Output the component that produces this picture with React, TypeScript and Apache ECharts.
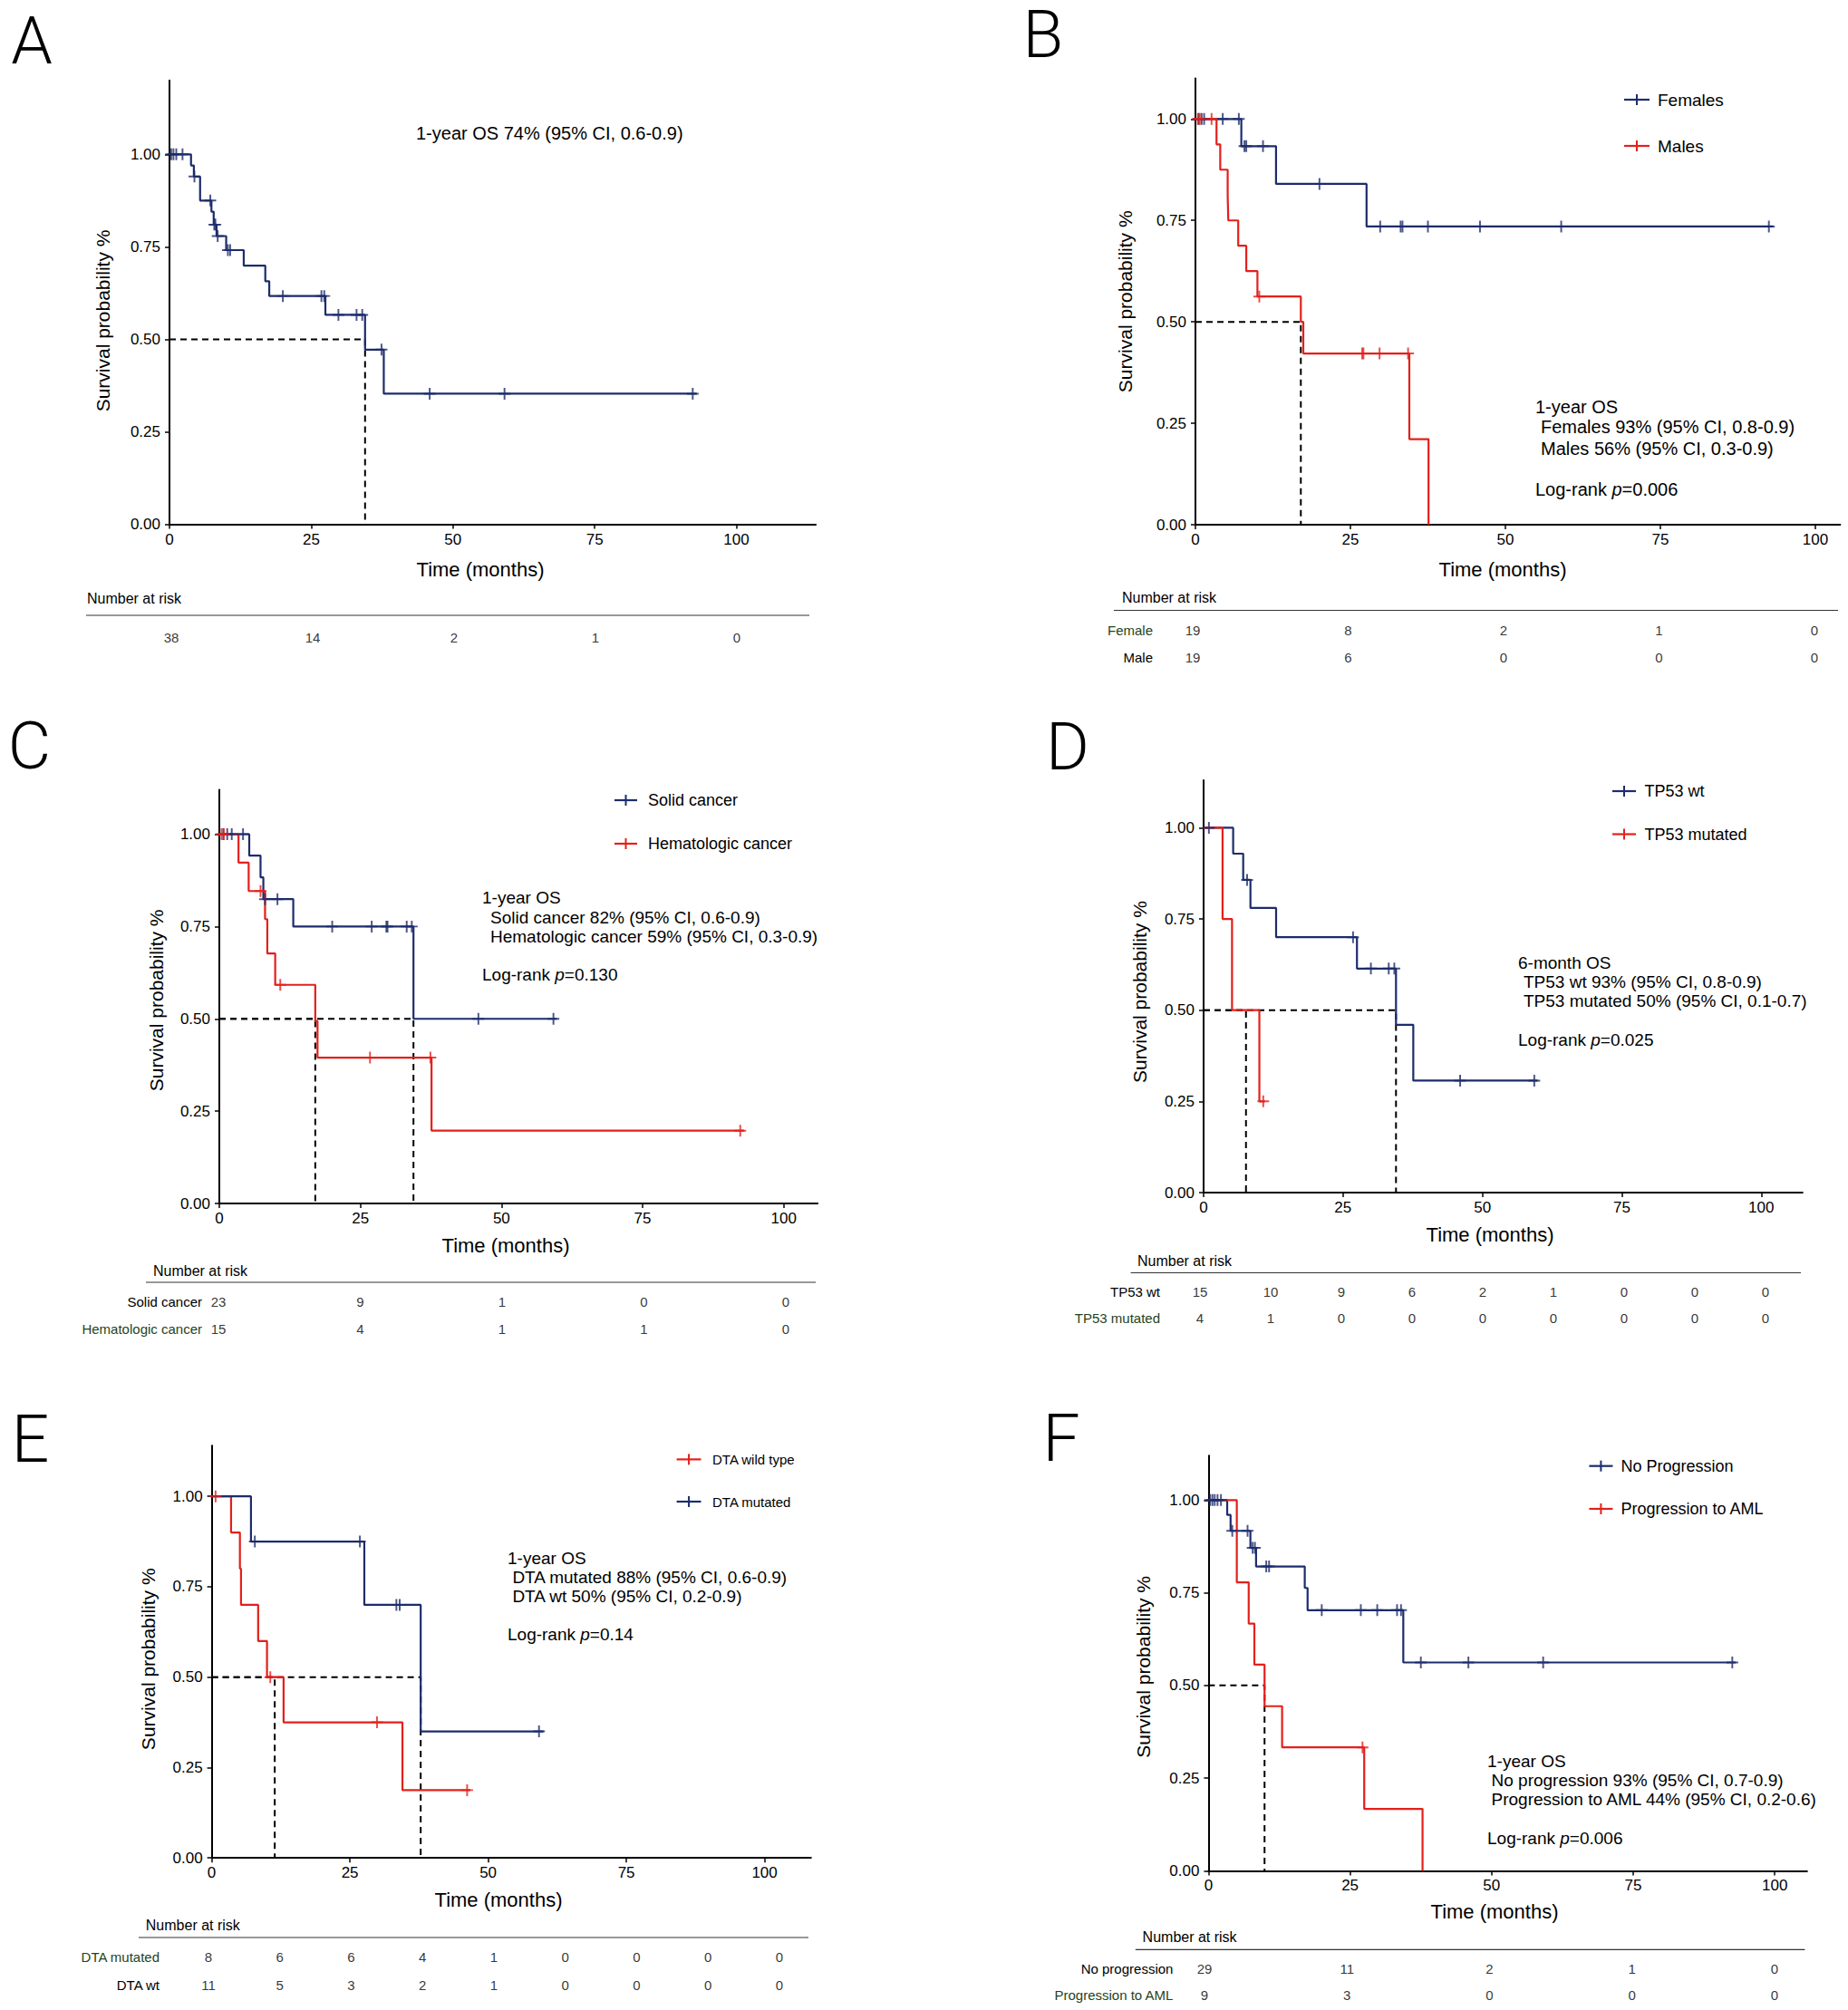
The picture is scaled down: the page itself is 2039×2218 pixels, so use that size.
import React, { useEffect, useRef } from 'react';
import * as echarts from 'echarts';

const NAVY = '#1d2c6c';
const RED = '#e3201b';
const GREEN = '#1f4420';
const FONT = "'Liberation Sans', Arial, Helvetica, sans-serif";
const LETTER_FONT = "Roboto, 'Liberation Sans', sans-serif";

// ---------------- data ----------------
const xTicks = [0, 25, 50, 75, 100];
const yTicks = [0, 0.25, 0.5, 0.75, 1];
const riskCols5 = [0, 25, 50, 75, 100];
const riskCols9 = [0, 12.5, 25, 37.5, 50, 62.5, 75, 87.5, 100];

// A: all patients
const aTimes = [0, 3.8, 4.3, 5.4, 7.4, 7.8, 8.3, 10.0, 13.1, 16.9, 17.6, 27.5, 34.5, 37.8, 93.0];
const aSurv = [1, 0.97, 0.94, 0.875, 0.845, 0.81, 0.779, 0.741, 0.699, 0.657, 0.617, 0.566, 0.472, 0.353, 0.353];
const aCensor = [0.3, 0.7, 1.2, 2.3, 4.4, 7.2, 7.9, 8.1, 8.5, 10.3, 10.7, 20.0, 26.8, 27.3, 29.8, 33.0, 34.0, 37.4, 45.9, 59.1, 92.3];
const aMedians = [34.5];
const aRisk = [38, 14, 2, 1, 0];

// B: sex
const bFemTimes = [0, 7.4, 13.0, 27.6, 93.2];
const bFemSurv = [1, 0.933, 0.84, 0.735, 0.735];
const bFemCensor = [0.5, 1.0, 1.4, 4.4, 7.0, 7.9, 8.2, 10.9, 20.0, 29.8, 33.1, 33.4, 37.5, 45.9, 59.0, 92.5];
const bMalTimes = [0, 3.4, 4.0, 5.2, 5.3, 6.9, 8.2, 10.0, 17.0, 17.4, 34.5, 37.6];
const bMalSurv = [1, 0.9375, 0.875, 0.8125, 0.75, 0.6875, 0.625, 0.5625, 0.5, 0.422, 0.211, 0];
const bMalCensor = [0.4, 0.7, 2.6, 10.3, 26.9, 27.1, 29.7, 34.3];
const bMedians = [17.0];
const bRiskFemale = [19, 8, 2, 1, 0];
const bRiskMale = [19, 6, 0, 0, 0];

// C: cancer type
const cSolTimes = [0, 5.3, 7.3, 7.8, 13.1, 34.4, 59.8];
const cSolSurv = [1, 0.942, 0.883, 0.824, 0.75, 0.5, 0.5];
const cSolCensor = [0.7, 1.4, 2.2, 4.2, 8.1, 10.3, 20.0, 27.0, 29.6, 29.8, 33.2, 34.1, 45.9, 59.2];
const cHemTimes = [0, 3.4, 5.2, 8.1, 8.5, 9.9, 17.0, 17.4, 37.6, 93.0];
const cHemSurv = [1, 0.923, 0.846, 0.77, 0.677, 0.592, 0.494, 0.395, 0.197, 0.197];
const cHemCensor = [0.4, 0.8, 7.3, 10.8, 26.7, 37.4, 92.3];
const cMedians = [17.0, 34.4];
const cRiskSolid = [23, 9, 1, 0, 0];
const cRiskHem = [15, 4, 1, 1, 0];

// D: TP53
const dWtTimes = [0, 5.3, 7.1, 8.4, 13.0, 27.5, 34.5, 37.6, 59.9];
const dWtSurv = [1, 0.929, 0.857, 0.78, 0.70, 0.614, 0.46, 0.307, 0.307];
const dWtCensor = [0.95, 7.8, 26.8, 30.0, 33.2, 34.2, 46.0, 59.3];
const dMutTimes = [0, 3.4, 5.1, 10.0, 11.0];
const dMutSurv = [1, 0.75, 0.5, 0.25, 0.25];
const dMutCensor = [10.7];
const dMedians = [7.6, 34.5];
const dRiskWt = [15, 10, 9, 6, 2, 1, 0, 0, 0];
const dRiskMut = [4, 1, 0, 0, 0, 0, 0, 0, 0];

// E: DTA
const eWildTimes = [0, 3.5, 5.1, 5.3, 8.4, 10.0, 13.0, 34.5, 46.8];
const eWildSurv = [1, 0.9, 0.8, 0.7, 0.6, 0.5, 0.375, 0.1875, 0.1875];
const eWildCensor = [0.7, 10.6, 29.9, 46.2];
const eMutTimes = [0, 7.1, 27.6, 37.8, 60.0];
const eMutSurv = [1, 0.875, 0.70, 0.35, 0.35];
const eMutCensor = [7.8, 26.8, 33.4, 34.0, 59.2];
const eMedians = [11.4, 37.8];
const eRiskMut = [8, 6, 6, 4, 1, 0, 0, 0, 0];
const eRiskWt = [11, 5, 3, 2, 1, 0, 0, 0, 0];

// F: progression
const fNoTimes = [0, 3.3, 3.9, 7.4, 8.4, 17.0, 17.5, 34.4, 93.1];
const fNoSurv = [1, 0.96, 0.917, 0.871, 0.821, 0.763, 0.703, 0.562, 0.562];
const fNoCensor = [0.3, 0.7, 1.1, 1.6, 2.2, 4.2, 6.9, 7.8, 8.2, 10.2, 10.7, 20.0, 26.9, 29.8, 33.3, 34.0, 37.5, 45.9, 59.1, 92.5];
const fAmlTimes = [0, 5.0, 7.1, 8.1, 9.9, 13.0, 27.5, 37.8];
const fAmlSurv = [1, 0.778, 0.667, 0.556, 0.444, 0.333, 0.167, 0];
const fAmlCensor = [27.2];
const fMedians = [9.9];
const fRiskNo = [29, 11, 2, 1, 0];
const fRiskAml = [9, 3, 0, 0, 0];

// ---------------- layout ----------------
type Group = { times: number[]; surv: number[]; censor: number[]; color: string };
type Row = { name: string; counts: number[]; color: string };
type Panel = {
  x0: number; x100: number; y0: number; y1: number; xmax: number; ymax: number;
  letter: { t: string; x: number; y: number };
  yNameX: number;
  xName: { x: number; y: number };
  ann: { t: string; x: number; y: number }[];
  logrank: { p: string; x: number; y: number } | null;
  annFont: number;
  legend: { mx1: number; mx2: number; tx: number; font: number; items: { name: string; color: string; y: number }[] } | null;
  risk: { tx: number; ty: number; lx1: number; lx2: number; ly: number; x0: number; x100: number; rowsY: number[]; labelRight: number; rows: Row[]; cols: number[] };
  groups: Group[];
  medians: number[];
};

const panels: Panel[] = [
  {
    x0: 187, x100: 812.5, y0: 578.5, y1: 170.3, xmax: 114, ymax: 1.2,
    letter: { t: 'A', x: 35, y: 45 }, yNameX: 113, xName: { x: 530, y: 628 },
    ann: [{ t: '1-year OS 74% (95% CI, 0.6-0.9)', x: 459, y: 147 }], logrank: null, annFont: 20,
    legend: null,
    risk: { tx: 96, ty: 660, lx1: 95, lx2: 893, ly: 679, x0: 189, x100: 813, rowsY: [703], labelRight: 150,
      rows: [{ name: 'All', counts: aRisk, color: '#000' }], cols: riskCols5 },
    groups: [{ times: aTimes, surv: aSurv, censor: aCensor, color: NAVY }],
    medians: aMedians,
  },
  {
    x0: 1319, x100: 2003, y0: 579, y1: 131.3, xmax: 104, ymax: 1.1,
    letter: { t: 'B', x: 1151, y: 38 }, yNameX: 1241, xName: { x: 1658, y: 628 },
    ann: [
      { t: '1-year OS', x: 1694, y: 449 },
      { t: 'Females 93% (95% CI, 0.8-0.9)', x: 1700, y: 471 },
      { t: 'Males 56% (95% CI, 0.3-0.9)', x: 1700, y: 495 },
    ],
    logrank: { p: '0.006', x: 1694, y: 540 }, annFont: 20,
    legend: { mx1: 1792, mx2: 1820, tx: 1829, font: 19, items: [
      { name: 'Females', color: NAVY, y: 110 },
      { name: 'Males', color: RED, y: 161 },
    ] },
    risk: { tx: 1238, ty: 659, lx1: 1229, lx2: 2028, ly: 673.5, x0: 1316, x100: 2002, rowsY: [695, 725], labelRight: 1272,
      rows: [{ name: 'Female', counts: bRiskFemale, color: GREEN }, { name: 'Male', counts: bRiskMale, color: '#000' }], cols: riskCols5 },
    groups: [
      { times: bFemTimes, surv: bFemSurv, censor: bFemCensor, color: NAVY },
      { times: bMalTimes, surv: bMalSurv, censor: bMalCensor, color: RED },
    ],
    medians: bMedians,
  },
  {
    x0: 242, x100: 864.7, y0: 1328, y1: 920.5, xmax: 106, ymax: 1.12,
    letter: { t: 'C', x: 32.5, y: 823 }, yNameX: 172, xName: { x: 558, y: 1374 },
    ann: [
      { t: '1-year OS', x: 532, y: 990 },
      { t: 'Solid cancer 82% (95% CI, 0.6-0.9)', x: 541, y: 1012 },
      { t: 'Hematologic cancer 59% (95% CI, 0.3-0.9)', x: 541, y: 1033 },
    ],
    logrank: { p: '0.130', x: 532, y: 1075 }, annFont: 19,
    legend: { mx1: 678, mx2: 703, tx: 715, font: 18, items: [
      { name: 'Solid cancer', color: NAVY, y: 883 },
      { name: 'Hematologic cancer', color: RED, y: 931 },
    ] },
    risk: { tx: 169, ty: 1402, lx1: 161, lx2: 900, ly: 1415, x0: 241, x100: 867, rowsY: [1436, 1466], labelRight: 223,
      rows: [{ name: 'Solid cancer', counts: cRiskSolid, color: '#000' }, { name: 'Hematologic cancer', counts: cRiskHem, color: GREEN }], cols: riskCols5 },
    groups: [
      { times: cSolTimes, surv: cSolSurv, censor: cSolCensor, color: NAVY },
      { times: cHemTimes, surv: cHemSurv, censor: cHemCensor, color: RED },
    ],
    medians: cMedians,
  },
  {
    x0: 1328, x100: 1943.3, y0: 1316, y1: 913.4, xmax: 107.4, ymax: 1.13,
    letter: { t: 'D', x: 1178, y: 824 }, yNameX: 1257, xName: { x: 1644, y: 1362 },
    ann: [
      { t: '6-month OS', x: 1675, y: 1062 },
      { t: 'TP53 wt 93% (95% CI, 0.8-0.9)', x: 1681, y: 1083.4 },
      { t: 'TP53 mutated 50% (95% CI, 0.1-0.7)', x: 1681, y: 1104.7 },
    ],
    logrank: { p: '0.025', x: 1675, y: 1147 }, annFont: 19,
    legend: { mx1: 1779, mx2: 1805, tx: 1814.5, font: 18, items: [
      { name: 'TP53 wt', color: NAVY, y: 873 },
      { name: 'TP53 mutated', color: RED, y: 920.5 },
    ] },
    risk: { tx: 1255, ty: 1391, lx1: 1247.6, lx2: 1987, ly: 1404.5, x0: 1324, x100: 1948, rowsY: [1425.7, 1454], labelRight: 1280,
      rows: [{ name: 'TP53 wt', counts: dRiskWt, color: '#000' }, { name: 'TP53 mutated', counts: dRiskMut, color: GREEN }], cols: riskCols9 },
    groups: [
      { times: dWtTimes, surv: dWtSurv, censor: dWtCensor, color: NAVY },
      { times: dMutTimes, surv: dMutSurv, censor: dMutCensor, color: RED },
    ],
    medians: dMedians,
  },
  {
    x0: 233.6, x100: 843.6, y0: 2050.2, y1: 1651.2, xmax: 108.4, ymax: 1.14,
    letter: { t: 'E', x: 33.5, y: 1588 }, yNameX: 163, xName: { x: 550, y: 2096 },
    ann: [
      { t: '1-year OS', x: 560, y: 1719 },
      { t: 'DTA mutated 88% (95% CI, 0.6-0.9)', x: 565.4, y: 1740 },
      { t: 'DTA wt 50% (95% CI, 0.2-0.9)', x: 565.4, y: 1761 },
    ],
    logrank: { p: '0.14', x: 560, y: 1803.7 }, annFont: 19,
    legend: { mx1: 746.6, mx2: 773.5, tx: 786, font: 15, items: [
      { name: 'DTA wild type', color: RED, y: 1610.4 },
      { name: 'DTA mutated', color: NAVY, y: 1657 },
    ] },
    risk: { tx: 160.8, ty: 2124.4, lx1: 153, lx2: 892, ly: 2138, x0: 230, x100: 860, rowsY: [2159.6, 2190.8], labelRight: 176,
      rows: [{ name: 'DTA mutated', counts: eRiskMut, color: GREEN }, { name: 'DTA wt', counts: eRiskWt, color: '#000' }], cols: riskCols9 },
    groups: [
      { times: eWildTimes, surv: eWildSurv, censor: eWildCensor, color: RED },
      { times: eMutTimes, surv: eMutSurv, censor: eMutCensor, color: NAVY },
    ],
    medians: eMedians,
  },
  {
    x0: 1333.4, x100: 1958.2, y0: 2064.4, y1: 1655.3, xmax: 105.7, ymax: 1.12,
    letter: { t: 'F', x: 1171, y: 1587 }, yNameX: 1261, xName: { x: 1649, y: 2109 },
    ann: [
      { t: '1-year OS', x: 1641, y: 1943 },
      { t: 'No progression 93% (95% CI, 0.7-0.9)', x: 1645.5, y: 1964.5 },
      { t: 'Progression to AML 44% (95% CI, 0.2-0.6)', x: 1645.5, y: 1985.6 },
    ],
    logrank: { p: '0.006', x: 1641, y: 2028.2 }, annFont: 19,
    legend: { mx1: 1753.4, mx2: 1779.4, tx: 1788.5, font: 18, items: [
      { name: 'No Progression', color: NAVY, y: 1617.7 },
      { name: 'Progression to AML', color: RED, y: 1665 },
    ] },
    risk: { tx: 1260.6, ty: 2137.7, lx1: 1252.8, lx2: 1991.4, ly: 2151.4, x0: 1329, x100: 1958, rowsY: [2172.5, 2201.8], labelRight: 1294.4,
      rows: [{ name: 'No progression', counts: fRiskNo, color: '#000' }, { name: 'Progression to AML', counts: fRiskAml, color: GREEN }], cols: riskCols5 },
    groups: [
      { times: fNoTimes, surv: fNoSurv, censor: fNoCensor, color: NAVY },
      { times: fAmlTimes, surv: fAmlSurv, censor: fAmlCensor, color: RED },
    ],
    medians: fMedians,
  },
];

const PLUS = 'path://M-0.9,-6H0.9V-0.9H6V0.9H0.9V6H-0.9V0.9H-6V-0.9H-0.9Z';

function survAt(times: number[], surv: number[], t: number) {
  let s = surv[0];
  for (let i = 0; i < times.length; i++) if (times[i] <= t) s = surv[i];
  return s;
}

function textEl(t: string, x: number, y: number, size: number, extra: any = {}) {
  const align = extra.align || 'left';
  const style: any = {
    text: t, fill: extra.fill || '#000', fontSize: size, fontFamily: extra.family || FONT,
    fontWeight: extra.weight || 'normal',
    align, textAlign: align, verticalAlign: 'middle', textVerticalAlign: 'middle',
  };
  if (extra.rich) style.rich = extra.rich;
  if (extra.lineHeight) style.lineHeight = extra.lineHeight;
  return { type: 'text', x, y, rotation: extra.rotation || 0, silent: true, z: 10, style };
}

function buildOption() {
  const grid: any[] = [];
  const xAxis: any[] = [];
  const yAxis: any[] = [];
  const series: any[] = [];
  const graphic: any[] = [];

  panels.forEach((p, i) => {
    const pxPerX = (p.x100 - p.x0) / 100;
    const unitY = p.y0 - p.y1;
    const width = pxPerX * p.xmax;
    const height = unitY * p.ymax;
    grid.push({ left: p.x0, top: p.y0 - height, width, height, containLabel: false });
    const gi = 2 * i;
    xAxis.push({
      gridIndex: gi, type: 'value', min: 0, max: p.xmax,
      axisLine: { show: true, lineStyle: { color: '#000', width: 2 } },
      axisTick: { show: true, customValues: xTicks, length: 5, lineStyle: { color: '#000', width: 1.5 } },
      axisLabel: { show: true, customValues: xTicks, color: '#000', fontSize: 17, fontFamily: FONT, margin: 8 },
      splitLine: { show: false },
    });
    yAxis.push({
      gridIndex: gi, type: 'value', min: 0, max: p.ymax,
      axisLine: { show: true, lineStyle: { color: '#000', width: 2 } },
      axisTick: { show: true, customValues: yTicks, length: 5, lineStyle: { color: '#000', width: 1.5 } },
      axisLabel: { show: true, customValues: yTicks, color: '#000', fontSize: 17, fontFamily: FONT, margin: 10,
        formatter: (v: number) => v.toFixed(2) },
      splitLine: { show: false },
    });

    // median dashed lines
    p.medians.forEach((m) => {
      series.push({
        type: 'line', xAxisIndex: gi, yAxisIndex: gi, data: [[0, 0.5], [m, 0.5], [m, 0]],
        symbol: 'none', showSymbol: false, silent: true, clip: false, z: 2,
        lineStyle: { color: '#000', width: 2, type: [7, 5] },
      });
    });

    p.groups.forEach((g) => {
      series.push({
        type: 'line', xAxisIndex: gi, yAxisIndex: gi, step: 'end',
        data: g.times.map((t, k) => [t, g.surv[k]]),
        symbol: 'none', showSymbol: false, silent: true, clip: false, z: 3,
        lineStyle: { color: g.color, width: 2.2 }, itemStyle: { color: g.color },
      });
    });
    p.groups.forEach((g) => {
      series.push({
        type: 'scatter', xAxisIndex: gi, yAxisIndex: gi,
        data: g.censor.map((t) => [t, survAt(g.times, g.surv, t)]),
        symbol: PLUS, symbolSize: 13, symbolKeepAspect: true, silent: true, z: 4,
        itemStyle: { color: g.color },
      });
    });

    // risk table grid
    const r = p.risk;
    const ti = gi + 1;
    const d = r.rowsY.length > 1 ? r.rowsY[1] - r.rowsY[0] : 30;
    grid.push({ left: r.x0, top: r.rowsY[0] - d / 2, width: r.x100 - r.x0, height: d * r.rowsY.length, containLabel: false });
    xAxis.push({ gridIndex: ti, type: 'value', min: 0, max: 100, show: false });
    const hasLabels = p.risk.rows.length > 1;
    const richMap: any = {};
    r.rows.forEach((row, k) => {
      richMap['r' + k] = { color: row.color, fontSize: 15, fontFamily: FONT };
    });
    yAxis.push({
      gridIndex: ti, type: 'category', inverse: true, data: r.rows.map((row) => row.name),
      axisLine: { show: false }, axisTick: { show: false }, splitLine: { show: false },
      axisLabel: {
        show: hasLabels, margin: r.x0 - r.labelRight, fontSize: 15, fontFamily: FONT,
        formatter: (v: string, idx: number) => `{r${idx}|${v}}`,
        rich: richMap,
      },
    });
    const tdata: any[] = [];
    r.rows.forEach((row) => {
      row.counts.forEach((c, j) => tdata.push([r.cols[j], row.name, c]));
    });
    series.push({
      type: 'scatter', xAxisIndex: ti, yAxisIndex: ti, data: tdata,
      symbol: 'circle', symbolSize: 1, silent: true, itemStyle: { color: 'rgba(0,0,0,0)' },
      label: { show: true, position: 'inside', color: '#000', fontSize: 15, fontFamily: FONT,
        formatter: (prm: any) => String(prm.value[2]) },
    });

    // graphics
    graphic.push(textEl(p.letter.t, p.letter.x, p.letter.y, 73, { family: LETTER_FONT, weight: 300, lineHeight: 60, align: 'center' }));
    graphic.push(textEl('Survival probability %', p.yNameX, p.y0 - 0.55 * unitY, 21, { align: 'center', rotation: Math.PI / 2 }));
    graphic.push(textEl('Time (months)', p.xName.x, p.xName.y, 22, { align: 'center' }));
    p.ann.forEach((a) => graphic.push(textEl(a.t, a.x, a.y, p.annFont)));
    if (p.logrank) {
      const fs = p.annFont;
      graphic.push(textEl(`{n|Log-rank }{i|p}{n|=${p.logrank.p}}`, p.logrank.x, p.logrank.y, fs, {
        rich: {
          n: { fontSize: fs, fontFamily: FONT, fill: '#000', color: '#000' },
          i: { fontSize: fs, fontFamily: FONT, fontStyle: 'italic', fill: '#000', color: '#000' },
        },
      }));
    }
    if (p.legend) {
      const L = p.legend;
      L.items.forEach((it) => {
        const cx = (L.mx1 + L.mx2) / 2;
        graphic.push({ type: 'line', silent: true, z: 10, shape: { x1: L.mx1, y1: it.y, x2: L.mx2, y2: it.y }, style: { stroke: it.color, lineWidth: 2.2 } });
        graphic.push({ type: 'line', silent: true, z: 10, shape: { x1: cx, y1: it.y - 6, x2: cx, y2: it.y + 6 }, style: { stroke: it.color, lineWidth: 2 } });
        graphic.push(textEl(it.name, L.tx, it.y, L.font));
      });
    }
    graphic.push(textEl('Number at risk', r.tx, r.ty, 16));
    graphic.push({ type: 'line', silent: true, z: 10, shape: { x1: r.lx1, y1: r.ly, x2: r.lx2, y2: r.ly }, style: { stroke: '#333', lineWidth: 1.2 } });
  });

  return {
    animation: false,
    backgroundColor: '#ffffff',
    grid, xAxis, yAxis, series, graphic,
  };
}

export default function App() {
  const ref = useRef<HTMLDivElement>(null);
  useEffect(() => {
    if (!ref.current) return;
    const chart = echarts.init(ref.current, undefined, { renderer: 'svg' });
    chart.setOption(buildOption() as any);
    return () => chart.dispose();
  }, []);
  return (
    <div
      ref={ref}
      style={{ position: 'absolute', left: 0, top: 0, width: 2039, height: 2218, background: '#fff' }}
    />
  );
}
